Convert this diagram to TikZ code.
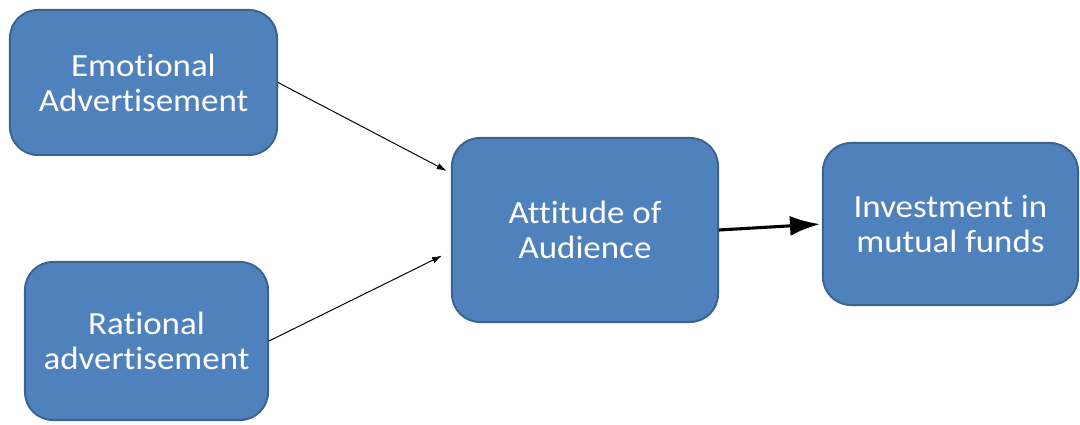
\documentclass[tikz,border=0pt]{standalone}
\usepackage{fontspec}
\setmainfont{Carlito}[FakeStretch=1.08, Ligatures={NoCommon}]
\usetikzlibrary{shapes.geometric, positioning, arrows.meta}
\definecolor{BoxBlue}{HTML}{4F81BD}
\definecolor{BoxEdge}{HTML}{3A6390}

\begin{document}
\begin{tikzpicture}[x = 0.025cm, y = -0.025cm]%
    %
    \tikzstyle{arrow} = [-{Latex[length=2.5mm, width=1.6mm]}, draw = black, line width = 0.7pt]%
    \tikzstyle{bigarrow} = [-{Latex[length=7.5mm, width=5mm]}, draw = black, line width = 2.2pt]%
    \tikzstyle{block} = [rectangle, draw = BoxEdge, line width = 1.4pt, fill = BoxBlue, text = white, align = center, rounded corners = 0.7cm, font = \fontsize{23}{25}\selectfont]%
    %
    \useasboundingbox (0,0) rectangle (1080,425);%
    %
    \node [block, minimum width = 6.675cm, minimum height = 3.625cm] (emotional) at (143.5,82.5) {Emotional\\Advertisement};%
    \node [block, minimum width = 6.075cm, minimum height = 3.95cm] (rational) at (146.5,341) {Rational\\advertisement};%
    \node [block, minimum width = 6.65cm, minimum height = 4.6cm] (attitude) at (585,230) {Attitude of\\Audience};%
    \node [block, minimum width = 6.375cm, minimum height = 4.05cm] (investment) at (950.5,224) {Investment in\\mutual funds};%
    %
    \draw [arrow, shorten >= 0.12cm] (emotional.east) -- (attitude.157);%
    \draw [arrow, shorten >= 0.25cm] (rational.east) -- (attitude.189);%
    \draw [bigarrow, shorten >= 0.05cm] (attitude.east) -- (investment.west);%
    %
\end{tikzpicture}
\end{document}
